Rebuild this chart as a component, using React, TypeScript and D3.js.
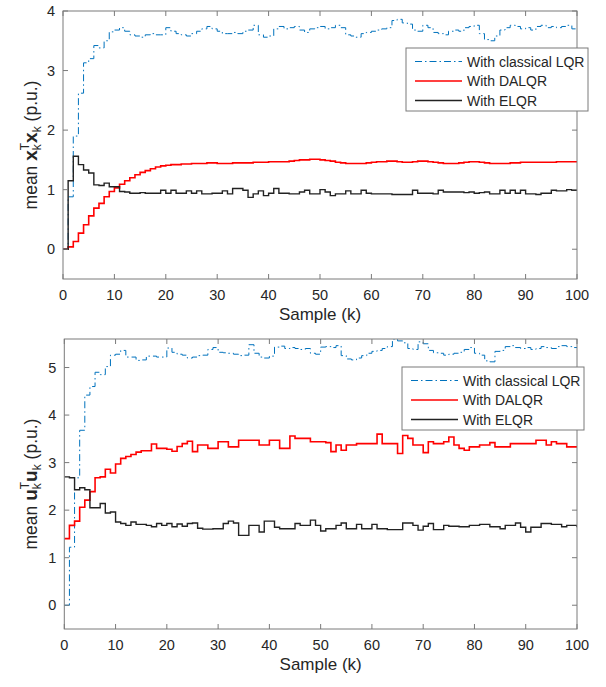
import React from "react";
import * as d3 from "d3";

// sample index k = 0..100
const samples = d3.range(0, 101);
const xTicks = [0, 10, 20, 30, 40, 50, 60, 70, 80, 90, 100];
const legendLabels = ["With classical LQR", "With DALQR", "With ELQR"];

// top panel: mean x_k^T x_k
const xLqr = [
  0, 0.88, 1.9, 2.62, 3.13, 3.2, 3.42, 3.38, 3.5, 3.65, 3.68, 3.72, 3.66, 3.6, 3.58, 3.56, 3.6, 3.62, 3.6, 3.6,
  3.72, 3.66, 3.62, 3.6, 3.58, 3.62, 3.66, 3.7, 3.74, 3.7, 3.66, 3.62, 3.62, 3.64, 3.62, 3.66, 3.68, 3.76, 3.6, 3.56,
  3.58, 3.7, 3.74, 3.7, 3.72, 3.74, 3.68, 3.64, 3.7, 3.72, 3.74, 3.7, 3.72, 3.76, 3.72, 3.6, 3.58, 3.56, 3.62, 3.64,
  3.66, 3.68, 3.7, 3.72, 3.84, 3.86, 3.8, 3.78, 3.68, 3.66, 3.76, 3.72, 3.64, 3.62, 3.6, 3.66, 3.68, 3.66, 3.72, 3.74,
  3.76, 3.62, 3.52, 3.5, 3.58, 3.68, 3.72, 3.76, 3.74, 3.7, 3.72, 3.68, 3.74, 3.76, 3.72, 3.74, 3.72, 3.74, 3.76, 3.7,
  3.7,
];
const xDalqr = [
  0, 0.04, 0.13, 0.27, 0.41, 0.56, 0.69, 0.77, 0.88, 0.97, 1.03, 1.09, 1.15, 1.2, 1.25, 1.29, 1.32, 1.35, 1.38, 1.4,
  1.41, 1.42, 1.42, 1.43, 1.43, 1.44, 1.44, 1.44, 1.45, 1.45, 1.44, 1.44, 1.44, 1.45, 1.45, 1.45, 1.45, 1.46, 1.46, 1.46,
  1.47, 1.47, 1.47, 1.47, 1.48, 1.49, 1.5, 1.5, 1.51, 1.51, 1.5, 1.49, 1.48, 1.46, 1.45, 1.44, 1.44, 1.44, 1.44, 1.45,
  1.46, 1.47, 1.47, 1.48, 1.48, 1.47, 1.46, 1.46, 1.47, 1.48, 1.48, 1.47, 1.46, 1.45, 1.44, 1.44, 1.44, 1.45, 1.46, 1.47,
  1.47, 1.46, 1.45, 1.44, 1.44, 1.44, 1.44, 1.45, 1.45, 1.46, 1.46, 1.46, 1.46, 1.46, 1.46, 1.46, 1.47, 1.47, 1.47, 1.47,
  1.47,
];
const xElqr = [
  0, 1.15, 1.56, 1.42, 1.33, 1.28, 1.08, 1.07, 1.11, 1.05, 1.05, 0.97, 0.96, 0.94, 0.94, 0.95, 0.94, 0.94, 0.94, 0.99,
  0.94, 0.99, 0.94, 0.94, 0.98, 0.94, 0.98, 0.93, 0.93, 0.94, 0.94, 0.98, 0.93, 1.02, 1.02, 0.99, 0.87, 0.93, 0.98, 0.9,
  0.94, 1.02, 0.94, 0.94, 0.93, 0.93, 0.96, 0.99, 0.93, 0.93, 1.0, 0.96, 0.9, 0.93, 0.93, 0.98, 0.93, 0.93, 0.99, 0.94,
  0.93, 0.93, 0.93, 0.93, 0.92, 0.92, 0.92, 0.92, 0.99, 0.94, 0.94, 0.94, 0.93, 0.99, 0.96, 0.96, 0.96, 0.96, 0.95, 0.96,
  0.94, 0.95, 0.96, 0.93, 0.93, 0.99, 0.94, 0.99, 0.94, 0.99, 0.93, 0.93, 0.92, 0.94, 0.94, 0.99, 0.98, 0.98, 1.0, 0.99,
  0.99,
];

// bottom panel: mean u_k^T u_k
const uLqr = [
  0, 1.22, 2.68, 3.68, 4.42, 4.6, 4.9, 4.85, 5.02, 5.26, 5.28, 5.36, 5.22, 5.22, 5.15, 5.16, 5.24, 5.24, 5.22, 5.22,
  5.41, 5.32, 5.28, 5.26, 5.2, 5.22, 5.25, 5.26, 5.38, 5.42, 5.32, 5.31, 5.3, 5.28, 5.25, 5.26, 5.48, 5.3, 5.22, 5.2,
  5.24, 5.43, 5.45, 5.4, 5.42, 5.4, 5.38, 5.4, 5.3, 5.28, 5.43, 5.44, 5.42, 5.46, 5.25, 5.18, 5.16, 5.2, 5.25, 5.3,
  5.34, 5.36, 5.4, 5.44, 5.6, 5.56, 5.52, 5.4, 5.38, 5.54, 5.5, 5.36, 5.31, 5.3, 5.26, 5.28, 5.3, 5.32, 5.38, 5.42,
  5.3, 5.26, 5.14, 5.12, 5.34, 5.36, 5.44, 5.46, 5.42, 5.4, 5.42, 5.38, 5.4, 5.44, 5.42, 5.4, 5.44, 5.46, 5.44, 5.42,
  5.42,
];
const uDalqr = [
  1.4, 1.68, 1.77, 2.06, 2.21, 2.39, 2.68, 2.7, 2.86, 2.78, 2.97, 3.09, 3.13, 3.17, 3.22, 3.25, 3.25, 3.39, 3.3, 3.3,
  3.28, 3.24, 3.34, 3.4, 3.45, 3.23, 3.37, 3.37, 3.3, 3.3, 3.44, 3.44, 3.33, 3.33, 3.47, 3.47, 3.47, 3.47, 3.37, 3.37,
  3.47, 3.47, 3.3, 3.3, 3.56, 3.51, 3.51, 3.51, 3.44, 3.44, 3.44, 3.42, 3.23, 3.37, 3.26, 3.37, 3.37, 3.4, 3.4, 3.4,
  3.4, 3.6, 3.4, 3.4, 3.4, 3.19, 3.57, 3.51, 3.37, 3.37, 3.21, 3.44, 3.4, 3.4, 3.44, 3.54, 3.37, 3.3, 3.26, 3.33,
  3.33, 3.37, 3.37, 3.42, 3.33, 3.33, 3.33, 3.4, 3.4, 3.4, 3.4, 3.4, 3.47, 3.47, 3.37, 3.44, 3.4, 3.4, 3.33, 3.33,
  3.33,
];
const uElqr = [
  2.7, 2.68, 2.43, 2.47, 2.43, 2.05, 2.05, 2.14, 1.94, 1.96, 1.75, 1.72, 1.68, 1.75, 1.7, 1.7, 1.68, 1.65, 1.72, 1.68,
  1.72, 1.65, 1.71, 1.66, 1.72, 1.73, 1.62, 1.6, 1.6, 1.61, 1.61, 1.72, 1.77, 1.73, 1.47, 1.47, 1.68, 1.68, 1.54, 1.77,
  1.77, 1.64, 1.61, 1.61, 1.61, 1.72, 1.68, 1.68, 1.79, 1.68, 1.56, 1.61, 1.61, 1.68, 1.73, 1.61, 1.61, 1.7, 1.61, 1.61,
  1.7, 1.61, 1.61, 1.59, 1.59, 1.59, 1.73, 1.73, 1.68, 1.58, 1.66, 1.72, 1.59, 1.59, 1.68, 1.66, 1.66, 1.65, 1.65, 1.68,
  1.68, 1.7, 1.7, 1.65, 1.65, 1.61, 1.68, 1.68, 1.73, 1.64, 1.54, 1.64, 1.64, 1.72, 1.72, 1.7, 1.7, 1.65, 1.68, 1.68,
  1.64,
];

const FONT = "'Liberation Sans', Arial, Helvetica, sans-serif";
const TXT = "#262626";
const AXIS = "#7a7a7a";

const seriesStyle = [
  { color: "#0072BD", width: 1, dash: "7,3,1.5,3" },
  { color: "#FF0000", width: 1.6, dash: undefined },
  { color: "#222222", width: 1.4, dash: undefined },
];

interface PanelProps {
  left: number;
  right: number;
  top: number;
  bottom: number;
  yDomain: [number, number];
  yTicks: number[];
  series: number[][];
  legendX: number;
  legendY: number;
  sym: string;
  id: string;
}

const Panel: React.FC<PanelProps> = ({ left, right, top, bottom, yDomain, yTicks, series, legendX, legendY, sym, id }) => {
  const x = d3.scaleLinear().domain([0, 100]).range([left, right]);
  const y = d3.scaleLinear().domain(yDomain).range([bottom, top]);
  const line = d3
    .line<number>()
    .x((_, i) => x(samples[i]))
    .y((d) => y(d))
    .curve(d3.curveStepAfter);
  const tl = 5;
  const cy = (top + bottom) / 2;

  return (
    <g>
      <defs>
        <clipPath id={id}>
          <rect x={left} y={top} width={right - left} height={bottom - top} />
        </clipPath>
      </defs>
      <g clipPath={`url(#${id})`}>
        {series.map((s, i) => (
          <path
            key={i}
            d={line(s) || ""}
            fill="none"
            stroke={seriesStyle[i].color}
            strokeWidth={seriesStyle[i].width}
            strokeDasharray={seriesStyle[i].dash}
          />
        ))}
      </g>
      {/* box */}
      <rect x={left} y={top} width={right - left} height={bottom - top} fill="none" stroke={AXIS} strokeWidth={1} />
      {xTicks.map((t) => (
        <g key={"x" + t}>
          <line x1={x(t)} x2={x(t)} y1={bottom} y2={bottom - tl} stroke={AXIS} />
          <line x1={x(t)} x2={x(t)} y1={top} y2={top + tl} stroke={AXIS} />
          <text x={x(t)} y={bottom + 21} textAnchor="middle" fontSize={14.5} fill={TXT} fontFamily={FONT}>
            {t}
          </text>
        </g>
      ))}
      {yTicks.map((t) => (
        <g key={"y" + t}>
          <line x1={left} x2={left + tl} y1={y(t)} y2={y(t)} stroke={AXIS} />
          <line x1={right} x2={right - tl} y1={y(t)} y2={y(t)} stroke={AXIS} />
          <text x={left - 8} y={y(t) + 5} textAnchor="end" fontSize={14.5} fill={TXT} fontFamily={FONT}>
            {t}
          </text>
        </g>
      ))}
      <text x={(left + right) / 2} y={bottom + 41} textAnchor="middle" fontSize={17} fill={TXT} fontFamily={FONT}>
        Sample (k)
      </text>
      <text
        transform={`translate(37,${cy}) rotate(-90)`}
        textAnchor="middle"
        fontSize={17.5}
        fill={TXT}
        fontFamily={FONT}
      >
        <tspan>mean </tspan>
        <tspan fontWeight="bold" fontSize={19}>{sym}</tspan>
        <tspan fontSize={12} dy={4}>k</tspan>
        <tspan fontSize={12} dx={-6} dy={-12}>T</tspan>
        <tspan fontWeight="bold" fontSize={19} dy={8}>{sym}</tspan>
        <tspan fontSize={12} dy={4}>k</tspan>
        <tspan dy={-4}> (p.u.)</tspan>
      </text>
      {/* legend */}
      <rect x={legendX} y={legendY} width={182} height={63} fill="#ffffff" stroke={AXIS} strokeWidth={1} />
      {legendLabels.map((lab, i) => {
        const ry = legendY + 13.5 + i * 19.5;
        return (
          <g key={lab}>
            <line
              x1={legendX + 9}
              x2={legendX + 56}
              y1={ry}
              y2={ry}
              stroke={seriesStyle[i].color}
              strokeWidth={seriesStyle[i].width}
              strokeDasharray={seriesStyle[i].dash}
            />
            <text x={legendX + 61} y={ry + 5} fontSize={14} fill={TXT} fontFamily={FONT}>
              {lab}
            </text>
          </g>
        );
      })}
    </g>
  );
};

export default function App() {
  return (
    <div style={{ position: "absolute", left: 0, top: 0 }}>
      <svg width={606} height={687} style={{ display: "block", background: "#ffffff" }}>
        <Panel
          id="clipTop"
          left={63}
          right={577}
          top={11}
          bottom={279}
          yDomain={[-0.5, 4]}
          yTicks={[0, 1, 2, 3, 4]}
          series={[xLqr, xDalqr, xElqr]}
          legendX={406}
          legendY={48}
          sym="x"
        />
        <Panel
          id="clipBottom"
          left={64.3}
          right={577}
          top={339}
          bottom={629}
          yDomain={[-0.5, 5.6]}
          yTicks={[0, 1, 2, 3, 4, 5]}
          series={[uLqr, uDalqr, uElqr]}
          legendX={402}
          legendY={367}
          sym="u"
        />
      </svg>
    </div>
  );
}
